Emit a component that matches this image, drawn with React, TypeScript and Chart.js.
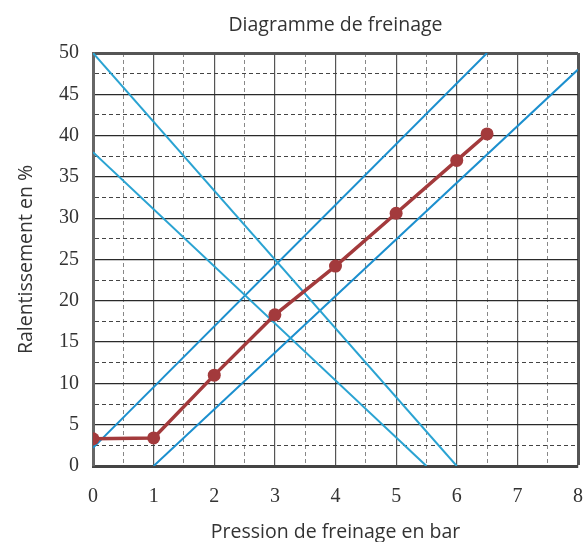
import React, { useEffect, useRef } from "react";
import { Chart, registerables } from "chart.js";

Chart.register(...registerables);

const chartTitle = "Diagramme de freinage";
const xTitle = "Pression de freinage en bar";
const yTitle = "Ralentissement en %";

// measured braking curve
const pressure = [0, 1, 2, 3, 4, 5, 6, 6.5];
const slowdown = [3.3, 3.4, 11, 18.3, 24.2, 30.6, 37, 40.2];

// tolerance band (ascending blue lines)
const bandUpperX = [0, 6.5];
const bandUpperY = [2.2, 50];
const bandLowerX = [1, 8];
const bandLowerY = [0, 48];

// descending blue lines
const limitHighX = [0, 6];
const limitHighY = [50, 0];
const limitLowX = [0, 5.5];
const limitLowY = [38, 0];

const xMin = 0, xMax = 8, xMinorStep = 0.5;
const yMin = 0, yMax = 50, yMinorStep = 2.5, yMajorStep = 5;

const pts = (xs: number[], ys: number[]) => xs.map((x, i) => ({ x, y: ys[i] }));

export default function App() {
  const ref = useRef<HTMLCanvasElement | null>(null);
  useEffect(() => {
    document.body.style.margin = "0";
    const canvas = ref.current;
    if (!canvas) return;
    const blueLine = (xs: number[], ys: number[], color: string) => ({
      data: pts(xs, ys),
      showLine: true,
      borderColor: color,
      backgroundColor: color,
      borderWidth: 2,
      pointRadius: 0,
      order: 2,
    });
    const chart = new Chart(canvas, {
      type: "scatter",
      data: {
        datasets: [
          blueLine(limitHighX, limitHighY, "#2aa3d2"),
          blueLine(limitLowX, limitLowY, "#2aa3d2"),
          blueLine(bandUpperX, bandUpperY, "#1b8fce"),
          blueLine(bandLowerX, bandLowerY, "#1b8fce"),
          {
            data: pts(pressure, slowdown),
            showLine: true,
            borderColor: "#a33a3c",
            backgroundColor: "#a33a3c",
            borderWidth: 3.5,
            pointRadius: 6.5,
            pointBorderWidth: 0,
            order: 1,
          },
        ],
      },
      options: {
        responsive: false,
        animation: false,
        layout: { padding: { left: 0, right: 8, top: 0, bottom: 0 } },
        plugins: {
          legend: { display: false },
          tooltip: { enabled: false },
          title: {
            display: true,
            text: chartTitle,
            fullSize: false,
            color: "#333",
            font: { family: "Open Sans", size: 19.5, weight: "normal", lineHeight: 1.2 },
            padding: { top: 13.3, bottom: 16.3 },
          },
        },
        scales: {
          x: {
            type: "linear",
            min: xMin,
            max: xMax,
            afterFit: (s: any) => { s.height = 76; s.paddingLeft = 0; s.paddingRight = 0; },
            ticks: {
              stepSize: xMinorStep,
              autoSkip: false,
              maxRotation: 0,
              padding: 19,
              color: "#333",
              font: { family: "Liberation Serif", size: 20, lineHeight: 1.2 },
              callback: (v: any) => (Number(v) % 1 === 0 ? String(v) : ""),
            },
            grid: {
              drawTicks: false,
              color: (c: any) => {
                const v = c.tick ? c.tick.value : 0;
                if (v === xMax) return "#555";
                return v % 1 === 0 ? "#555" : "#888";
              },
              lineWidth: (c: any) => {
                const v = c.tick ? c.tick.value : 0;
                if (v === xMax) return 3;
                return v % 1 === 0 ? 1.2 : 1;
              },
            },
            border: {
              display: true,
              color: "#444",
              width: 3,
              dash: (c: any) => (c.tick && c.tick.value % 1 !== 0 ? [4, 3] : []),
            },
            title: {
              display: true,
              text: xTitle,
              color: "#333",
              font: { family: "Open Sans", size: 19.5, lineHeight: 1 },
              padding: { top: 0, bottom: 0.3 },
            },
          },
          y: {
            type: "linear",
            min: yMin,
            max: yMax,
            afterFit: (s: any) => { s.width = 93; },
            ticks: {
              stepSize: yMinorStep,
              autoSkip: false,
              padding: 14,
              color: "#333",
              font: { family: "Liberation Serif", size: 20 },
              callback: (v: any) => (Number(v) % yMajorStep === 0 ? String(v) : ""),
            },
            grid: {
              drawTicks: false,
              color: (c: any) => {
                const v = c.tick ? c.tick.value : 0;
                if (v === yMax) return "#555";
                return v % yMajorStep === 0 ? "#2a2a2a" : "#444";
              },
              lineWidth: (c: any) => {
                const v = c.tick ? c.tick.value : 0;
                if (v === yMax) return 3;
                return v % yMajorStep === 0 ? 1.2 : 1;
              },
            },
            border: {
              display: true,
              color: "#666",
              width: 3,
              dash: (c: any) => (c.tick && c.tick.value % yMajorStep !== 0 ? [4, 3] : []),
            },
            title: {
              display: true,
              text: yTitle,
              color: "#333",
              font: { family: "Open Sans", size: 19.5, lineHeight: 1.2 },
              padding: { top: 14.3, bottom: 0 },
            },
          },
        },
      },
    } as any);
    return () => chart.destroy();
  }, []);
  return (
    <div style={{ width: 586, height: 542, background: "#fff" }}>
      <canvas ref={ref} width={586} height={542} />
    </div>
  );
}
